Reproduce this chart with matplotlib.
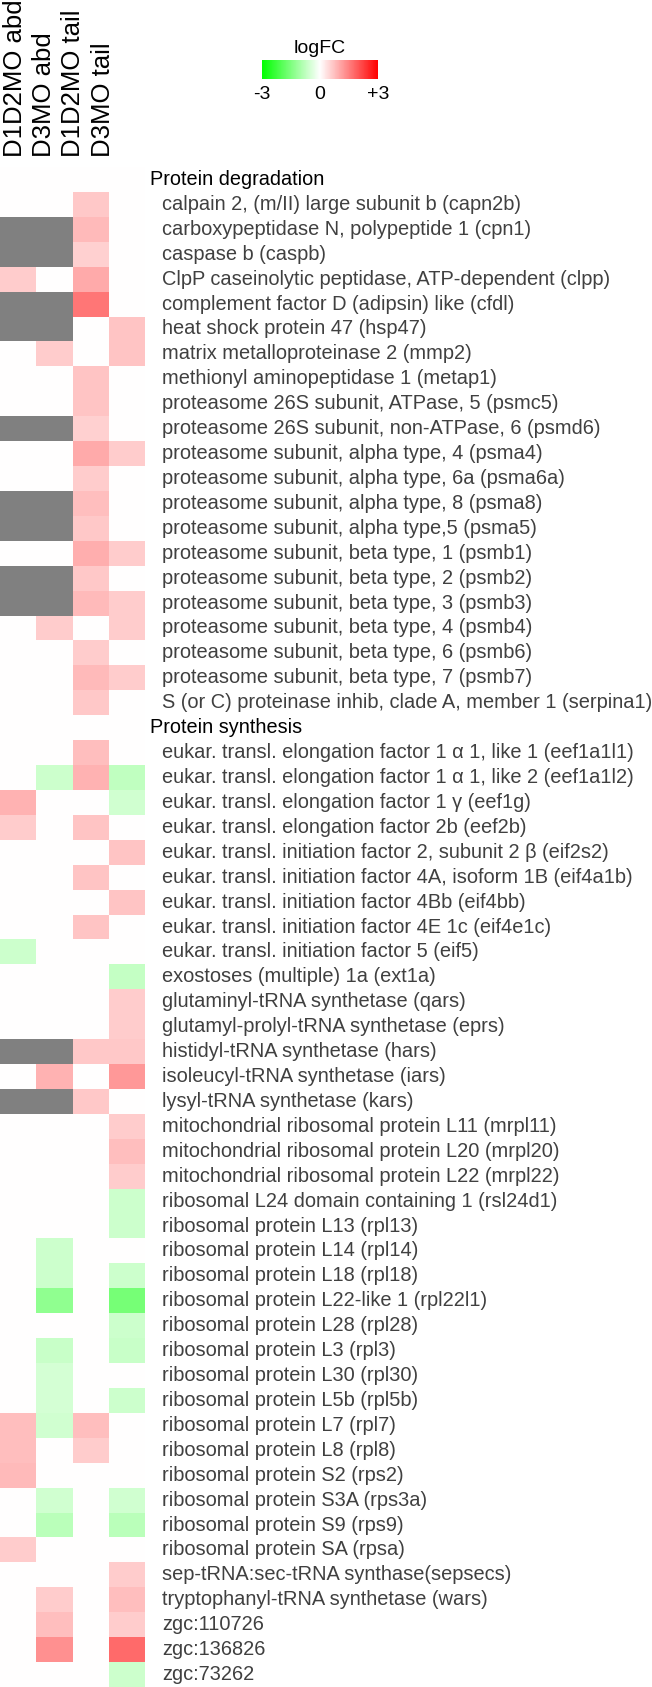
import numpy as np
import matplotlib.pyplot as plt
from matplotlib.colors import LinearSegmentedColormap, Normalize
from matplotlib.cm import ScalarMappable
from matplotlib.transforms import blended_transform_factory

plt.rcParams['font.family'] = ['Liberation Sans', 'DejaVu Sans']

samples = ['D1D2MO abd', 'D3MO abd', 'D1D2MO tail', 'D3MO tail']
groups = ['Protein degradation', 'Protein synthesis']

degradation_genes = [
    'calpain 2, (m/II) large subunit b (capn2b)',
    'carboxypeptidase N, polypeptide 1 (cpn1)',
    'caspase b (caspb)',
    'ClpP caseinolytic peptidase, ATP-dependent (clpp)',
    'complement factor D (adipsin) like (cfdl)',
    'heat shock protein 47 (hsp47)',
    'matrix metalloproteinase 2 (mmp2)',
    'methionyl aminopeptidase 1 (metap1)',
    'proteasome 26S subunit, ATPase, 5 (psmc5)',
    'proteasome 26S subunit, non-ATPase, 6 (psmd6)',
    'proteasome subunit, alpha type, 4 (psma4)',
    'proteasome subunit, alpha type, 6a (psma6a)',
    'proteasome subunit, alpha type, 8 (psma8)',
    'proteasome subunit, alpha type,5 (psma5)',
    'proteasome subunit, beta type, 1 (psmb1)',
    'proteasome subunit, beta type, 2 (psmb2)',
    'proteasome subunit, beta type, 3 (psmb3)',
    'proteasome subunit, beta type, 4 (psmb4)',
    'proteasome subunit, beta type, 6 (psmb6)',
    'proteasome subunit, beta type, 7 (psmb7)',
    'S (or C) proteinase inhib, clade A, member 1 (serpina1)',
]

synthesis_genes = [
    'eukar. transl. elongation factor 1 α 1, like 1 (eef1a1l1)',
    'eukar. transl. elongation factor 1 α 1, like 2 (eef1a1l2)',
    'eukar. transl. elongation factor 1 γ (eef1g)',
    'eukar. transl. elongation factor 2b (eef2b)',
    'eukar. transl. initiation factor 2, subunit 2 β (eif2s2)',
    'eukar. transl. initiation factor 4A, isoform 1B (eif4a1b)',
    'eukar. transl. initiation factor 4Bb (eif4bb)',
    'eukar. transl. initiation factor 4E 1c (eif4e1c)',
    'eukar. transl. initiation factor 5 (eif5)',
    'exostoses (multiple) 1a (ext1a)',
    'glutaminyl-tRNA synthetase (qars)',
    'glutamyl-prolyl-tRNA synthetase (eprs)',
    'histidyl-tRNA synthetase (hars)',
    'isoleucyl-tRNA synthetase (iars)',
    'lysyl-tRNA synthetase (kars)',
    'mitochondrial ribosomal protein L11 (mrpl11)',
    'mitochondrial ribosomal protein L20 (mrpl20)',
    'mitochondrial ribosomal protein L22 (mrpl22)',
    'ribosomal L24 domain containing 1 (rsl24d1)',
    'ribosomal protein L13 (rpl13)',
    'ribosomal protein L14 (rpl14)',
    'ribosomal protein L18 (rpl18)',
    'ribosomal protein L22-like 1 (rpl22l1)',
    'ribosomal protein L28 (rpl28)',
    'ribosomal protein L3 (rpl3)',
    'ribosomal protein L30 (rpl30)',
    'ribosomal protein L5b (rpl5b)',
    'ribosomal protein L7 (rpl7)',
    'ribosomal protein L8 (rpl8)',
    'ribosomal protein S2 (rps2)',
    'ribosomal protein S3A (rps3a)',
    'ribosomal protein S9 (rps9)',
    'ribosomal protein SA (rpsa)',
    'sep-tRNA:sec-tRNA synthase(sepsecs)',
    'tryptophanyl-tRNA synthetase (wars)',
    'zgc:110726',
    'zgc:136826',
    'zgc:73262',
]

NA = np.nan  # no value (grey cell)

# logFC per gene, columns in the order of `samples`
degradation_logfc = [
    [0, 0, 0.65, 0],
    [NA, NA, 0.8, 0],
    [NA, NA, 0.55, 0],
    [0.6, 0, 1.0, 0],
    [NA, NA, 1.6, 0],
    [NA, NA, 0, 0.7],
    [0, 0.6, 0, 0.7],
    [0, 0, 0.7, 0],
    [0, 0, 0.7, 0],
    [NA, NA, 0.55, 0],
    [0, 0, 1.0, 0.6],
    [0, 0, 0.6, 0],
    [NA, NA, 0.75, 0],
    [NA, NA, 0.65, 0],
    [0, 0, 0.95, 0.6],
    [NA, NA, 0.65, 0],
    [NA, NA, 0.8, 0.6],
    [0, 0.6, 0, 0.6],
    [0, 0, 0.6, 0],
    [0, 0, 0.8, 0.6],
    [0, 0, 0.65, 0],
]

synthesis_logfc = [
    [0, 0, 0.75, 0],
    [0, -0.6, 0.9, -0.75],
    [0.9, 0, 0, -0.55],
    [0.6, 0, 0.7, 0],
    [0, 0, 0, 0.7],
    [0, 0, 0.7, 0],
    [0, 0, 0, 0.7],
    [0, 0, 0.7, 0],
    [-0.6, 0, 0, 0],
    [0, 0, 0, -0.7],
    [0, 0, 0, 0.6],
    [0, 0, 0, 0.6],
    [NA, NA, 0.65, 0.65],
    [0, 0.9, 0, 1.2],
    [NA, NA, 0.65, 0],
    [0, 0, 0, 0.6],
    [0, 0, 0, 0.75],
    [0, 0, 0, 0.6],
    [0, 0, 0, -0.6],
    [0, 0, 0, -0.6],
    [0, -0.6, 0, 0],
    [0, -0.6, 0, -0.6],
    [0, -1.3, 0, -1.6],
    [0, 0, 0, -0.6],
    [0, -0.65, 0, -0.65],
    [0, -0.5, 0, 0],
    [0, -0.5, 0, -0.6],
    [0.75, -0.55, 0.75, 0],
    [0.75, 0, 0.6, 0],
    [0.8, 0, 0, 0],
    [0, -0.55, 0, -0.55],
    [0, -0.8, 0, -0.8],
    [0.6, 0, 0, 0],
    [0, 0, 0, 0.6],
    [0, 0.6, 0, 0.75],
    [0, 0.75, 0, 0.6],
    [0, 1.3, 0, 1.75],
    [0, 0, 0, -0.6],
]

# stack: group header rows are left blank (white)
rows, labels, is_header = [], [], []
for grp, genes, vals in zip(groups,
                            [degradation_genes, synthesis_genes],
                            [degradation_logfc, synthesis_logfc]):
    rows.append([0, 0, 0, 0]); labels.append(grp); is_header.append(True)
    rows += vals; labels += genes; is_header += [False] * len(genes)

mat = np.ma.masked_invalid(np.array(rows, dtype=float))
n = mat.shape[0]

W, H = 652, 1687
fig = plt.figure(figsize=(W / 100, H / 100), dpi=100)

cmap = LinearSegmentedColormap.from_list('gwr', ['#00ff00', '#ffffff', '#ff0000'])
cmap.set_bad('#808080')

ax = fig.add_axes([0, 0, 145 / W, 1520 / H])
ax.pcolormesh(np.arange(5), np.arange(n + 1), mat, cmap=cmap, vmin=-3, vmax=3)
ax.set_xlim(0, 4)
ax.set_ylim(n, 0)
ax.axis('off')

trans = blended_transform_factory(fig.transFigure, ax.transData)
for i, (lab, hdr) in enumerate(zip(labels, is_header)):
    if hdr:
        ax.text(150 / W, i + 0.5, lab, transform=trans, va='center', ha='left',
                fontsize=14.3, color='black', clip_on=False)
    else:
        ax.text(162 / W, i + 0.5, lab, transform=trans, va='center', ha='left',
                fontsize=14.4, color='#404040', clip_on=False)

# column labels
for s, xc in zip(samples, [15, 44, 73, 103]):
    fig.text(xc / W, 1 - 157 / H, s, rotation=90, ha='center', va='bottom',
             fontsize=18.5, color='black')

# colour key
cax = fig.add_axes([262 / W, 1 - 79 / H, 116 / W, 19 / H])
cb = fig.colorbar(ScalarMappable(norm=Normalize(-3, 3), cmap=cmap), cax=cax,
                  orientation='horizontal')
cb.outline.set_visible(False)
cb.set_ticks([-3, 0, 3])
cb.set_ticklabels(['-3', '0', '+3'])
cax.tick_params(length=0, labelsize=14, pad=5)
cax.set_title('logFC', fontsize=14, pad=5)

fig.savefig('out.png', dpi=100)
